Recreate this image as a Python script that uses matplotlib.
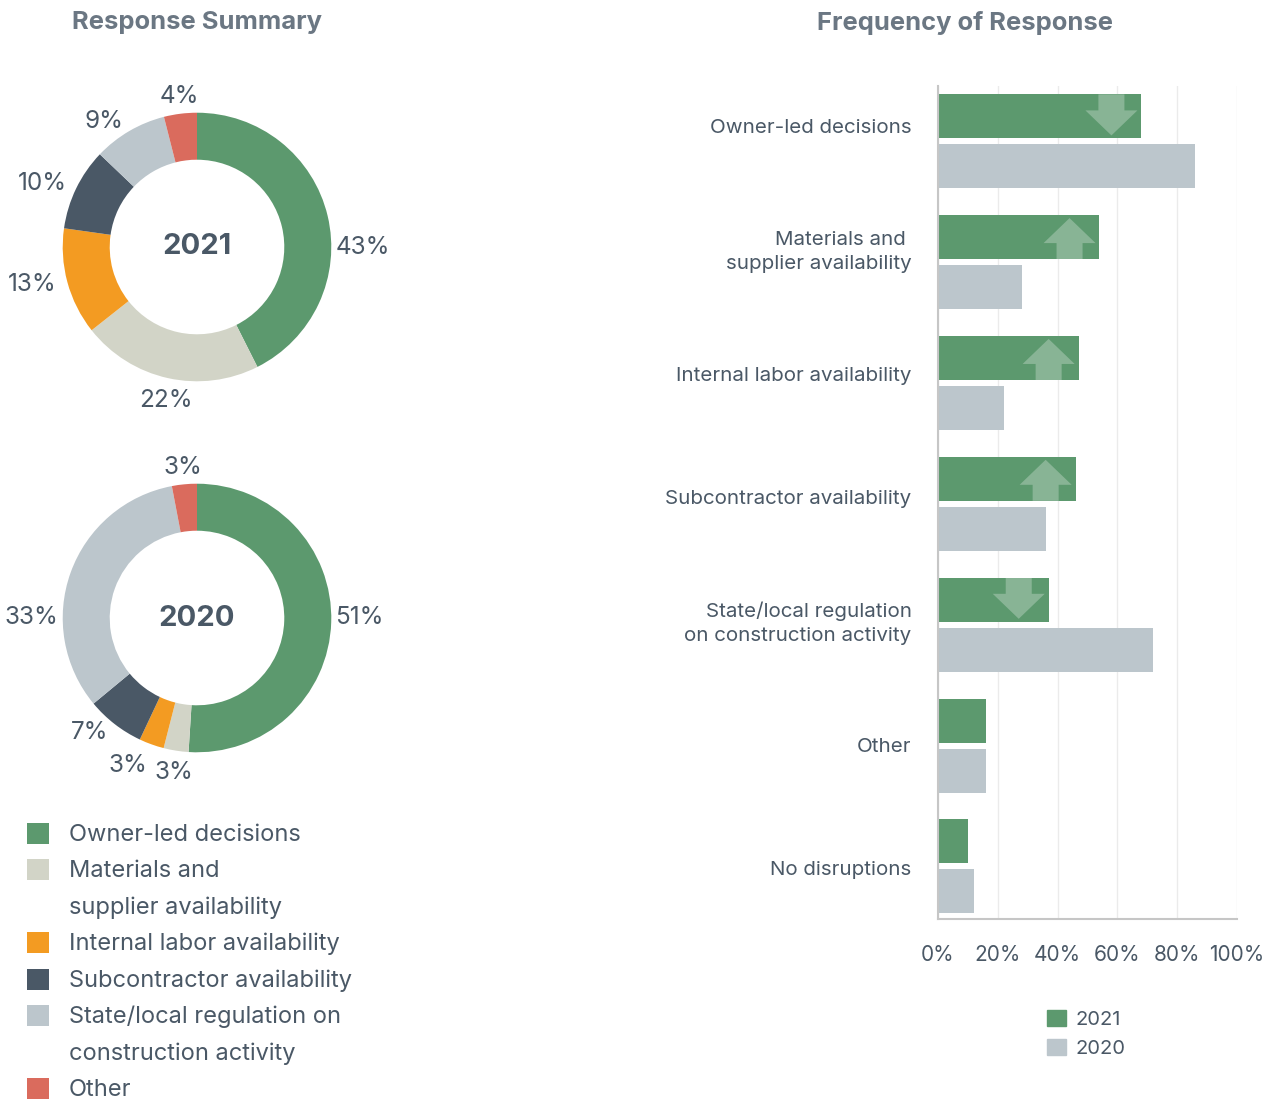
import numpy as np
import matplotlib
matplotlib.use("Agg")
import matplotlib.pyplot as plt
from matplotlib.patches import Rectangle, Polygon, Patch

plt.rcParams["font.family"] = ["Inter", "DejaVu Sans"]

# ---------------------------------------------------------------------------
# data
# ---------------------------------------------------------------------------
LEGEND_LABELS = ["Owner-led decisions",
                 "Materials and\nsupplier availability",
                 "Internal labor availability",
                 "Subcontractor availability",
                 "State/local regulation on\nconstruction activity",
                 "Other"]
SHARE_2021 = [43, 22, 13, 10, 9, 4]
SHARE_2020 = [51, 3, 3, 7, 33, 3]

BAR_LABELS = ["Owner-led decisions",
              "Materials and \nsupplier availability",
              "Internal labor availability",
              "Subcontractor availability",
              "State/local regulation\non construction activity",
              "Other",
              "No disruptions"]
FREQ_2021 = [68, 54, 47, 46, 37, 16, 10]
FREQ_2020 = [86, 28, 22, 36, 72, 16, 12]
X_TICKS = [0, 20, 40, 60, 80, 100]

# ---------------------------------------------------------------------------
# palette
# ---------------------------------------------------------------------------
SLICE_COLORS = ["#5C996E", "#D2D4C7", "#F39B22", "#4A5866", "#BCC6CC", "#DA6B5D"]
GREEN = "#5C996E"
GRAY_BAR = "#BCC6CC"
TEXT = "#4A5866"
TITLE = "#6B7783"

W, H = 1280, 1099


def px_axes(fig, left, top, width, height):
    """Axes placed in pixel units measured from the top-left corner."""
    return fig.add_axes([left / W, 1 - (top + height) / H, width / W, height / H])


def _draw_donut(ax, shares, year):
    wedges, texts = ax.pie(shares, colors=SLICE_COLORS, startangle=90, counterclock=False,
                           labels=[f"{v}%" for v in shares], labeldistance=1.08,
                           wedgeprops=dict(width=0.35, linewidth=0),
                           textprops=dict(fontsize=17.5, color=TEXT))
    total = sum(shares)
    for w, t, v in zip(wedges, texts, shares):
        ang = np.radians((w.theta1 + w.theta2) / 2)
        r = 1.08
        # big slices get their label on the horizontal
        if v / total > 0.25:
            hits = [a for a in (-360, -180, 0, 180, 360) if w.theta1 <= a <= w.theta2]
            if hits:
                ang = np.radians(hits[0])
                r = 1.03
        c, s = np.cos(ang), np.sin(ang)
        t.set_position((r * c, r * s))
        t.set_ha("left" if c > 0.3 else "right" if c < -0.3 else "center")
        t.set_va("baseline" if s > 0.9 else "top" if s < -0.9 else "center")
    ax.text(0, 0, year, ha="center", va="center", fontsize=21, fontweight="bold", color=TEXT)
    ax.set_xlim(-1.4, 1.4)
    ax.set_ylim(-1.4, 1.4)
    ax.set_aspect("equal")


def _draw_arrow(ax, cx, yc, bar_h, up):
    s = -1 if up else 1          # y axis is inverted
    base = yc - s * bar_h / 2
    neck = base + s * 0.133
    tip = base + s * 0.34
    hw, sw = 17.4, 8.7
    pts = [(cx - sw / 2, base), (cx - sw / 2, neck), (cx - hw / 2, neck), (cx, tip),
           (cx + hw / 2, neck), (cx + sw / 2, neck), (cx + sw / 2, base)]
    ax.add_patch(Polygon(pts, closed=True, facecolor=(1, 1, 1, 0.27), edgecolor="none", zorder=3))


def _draw_bars(ax):
    y = np.arange(len(BAR_LABELS))
    bar_h, off = 0.364, 0.207
    ax.barh(y - off, FREQ_2021, height=bar_h, color=GREEN, label="2021", zorder=2)
    ax.barh(y + off, FREQ_2020, height=bar_h, color=GRAY_BAR, label="2020", zorder=2)
    for i, (a, b) in enumerate(zip(FREQ_2021, FREQ_2020)):
        if abs(a - b) < 5:
            continue
        _draw_arrow(ax, a - 10, i - off, bar_h, a > b)

    ax.set_xlim(0, 100)
    ax.set_ylim(len(BAR_LABELS) - 0.565, -0.458)
    ax.set_xticks(X_TICKS)
    ax.set_xticklabels([f"{t}%" for t in X_TICKS])
    n_lines = np.array([lab.count("\n") for lab in BAR_LABELS])
    ax.set_yticks(y - 0.124 + 0.0235 * y - 0.022 * n_lines)
    ax.set_yticklabels(BAR_LABELS, linespacing=1.38)
    ax.tick_params(axis="x", length=0, pad=19, labelsize=15, labelcolor=TEXT)
    ax.tick_params(axis="y", length=0, pad=19, labelsize=14.8, labelcolor=TEXT)
    ax.grid(axis="x", color="#EBEBEB", linewidth=1)
    ax.set_axisbelow(True)
    for side in ("top", "right"):
        ax.spines[side].set_visible(False)
    for side in ("left", "bottom"):
        ax.spines[side].set_color("#C6C6C6")
        ax.spines[side].set_linewidth(1.5)


fig = plt.figure(figsize=(W / 100, H / 100), dpi=100, facecolor="white")

# overlay in pixel coords for titles and the left legend
ov = fig.add_axes([0, 0, 1, 1])
ov.set_xlim(0, W)
ov.set_ylim(H, 0)
ov.set_axis_off()
ov.text(197, 23, "Response Summary", ha="center", va="center", fontsize=18.4,
        fontweight="bold", color=TITLE)
ov.text(965, 23, "Frequency of Response", ha="center", va="center", fontsize=18.4,
        fontweight="bold", color=TITLE)

row = 0
for label, color in zip(LEGEND_LABELS, SLICE_COLORS):
    y0 = 835 + 36.4 * row
    ov.add_patch(Rectangle((27, y0 - 12), 22, 21, facecolor=color, edgecolor="none"))
    for line in label.split("\n"):
        ov.text(69, 835 + 36.4 * row, line, ha="left", va="center", fontsize=17, color=TEXT)
        row += 1

_draw_donut(px_axes(fig, 9, 59, 376, 376), SHARE_2021, "2021")
_draw_donut(px_axes(fig, 9, 430, 376, 376), SHARE_2020, "2020")

axB = px_axes(fig, 938, 86, 299, 833)
_draw_bars(axB)
fig.legend(handles=[Patch(color=GREEN, label="2021"), Patch(color=GRAY_BAR, label="2020")],
           loc="upper left", bbox_to_anchor=(1029 / W, 1 - 992 / H), frameon=False,
           handlelength=0.95, handleheight=0.85, handletextpad=0.45, labelspacing=0.49,
           fontsize=14.5, labelcolor=TEXT)

fig.savefig("out.png", dpi=100, facecolor="white")
